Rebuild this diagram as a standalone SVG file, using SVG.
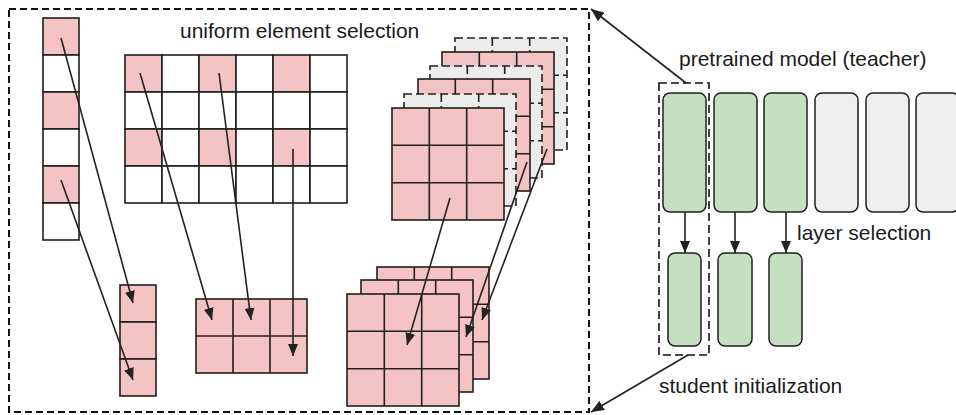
<svg xmlns="http://www.w3.org/2000/svg" width="956" height="415" viewBox="0 0 956 415">
<defs>
<style>
.t{font-family:"Liberation Sans",Arial,sans-serif;font-size:21px;fill:#1a1a1a}
.pk{fill:#f4c4c4;stroke:#1f1f1f;stroke-width:1.6}
.wh{fill:#ffffff;stroke:#1f1f1f;stroke-width:1.6}
.ln{stroke:#1f1f1f;stroke-width:1.6;fill:none}
.dl{stroke:#1f1f1f;stroke-width:1.6;fill:none;stroke-dasharray:8 4}
.gr{fill:#ececec;stroke:#1f1f1f;stroke-width:1.6;stroke-dasharray:8 4}
.ar{stroke:#222;stroke-width:1.6;fill:none;marker-end:url(#ah)}
.box{fill:none;stroke:#111;stroke-width:2;stroke-dasharray:7 4}
.g{fill:#c5e0c1;stroke:#1f1f1f;stroke-width:1.5}
.e{fill:#efefef;stroke:#1f1f1f;stroke-width:1.5}
</style>
<marker id="ah" viewBox="0 0 12 10" refX="12" refY="5" markerWidth="12" markerHeight="10" markerUnits="userSpaceOnUse" orient="auto">
<path d="M0,0 L12,5 L0,10 z" fill="#222"/>
</marker>
<marker id="ah2" viewBox="0 0 12 10" refX="12" refY="5" markerWidth="13" markerHeight="11" orient="auto" markerUnits="userSpaceOnUse">
<path d="M0,0 L12,5 L0,10 z" fill="#222"/>
</marker>
<g id="pl">
<rect class="pk" x="0" y="0" width="112" height="112"/>
<path class="ln" d="M37.3,0V112M74.7,0V112M0,37.3H112M0,74.7H112"/>
</g>
<g id="gl">
<rect class="gr" x="0" y="0" width="112" height="112"/>
<path class="dl" d="M37.3,0V112M74.7,0V112M0,37.3H112M0,74.7H112"/>
</g>
</defs>
<rect width="956" height="415" fill="#fff"/>

<g id="outer-box">
<rect class="box" x="9" y="9" width="580" height="403"/>
</g>

<g id="title-uniform"><text class="t" x="180" y="38">uniform element selection</text></g>

<g id="vector-source">
<rect class="pk" x="43" y="18" width="36" height="37"/>
<rect class="wh" x="43" y="55" width="36" height="37"/>
<rect class="pk" x="43" y="92" width="36" height="37"/>
<rect class="wh" x="43" y="129" width="36" height="37"/>
<rect class="pk" x="43" y="166" width="36" height="37"/>
<rect class="wh" x="43" y="203" width="36" height="37"/>
</g>

<g id="matrix-source">
<rect class="pk" x="125" y="55" width="37" height="37"/>
<rect class="wh" x="162" y="55" width="37" height="37"/>
<rect class="pk" x="199" y="55" width="37" height="37"/>
<rect class="wh" x="236" y="55" width="37" height="37"/>
<rect class="pk" x="273" y="55" width="37" height="37"/>
<rect class="wh" x="310" y="55" width="37" height="37"/>
<rect class="wh" x="125" y="92" width="37" height="37"/>
<rect class="wh" x="162" y="92" width="37" height="37"/>
<rect class="wh" x="199" y="92" width="37" height="37"/>
<rect class="wh" x="236" y="92" width="37" height="37"/>
<rect class="wh" x="273" y="92" width="37" height="37"/>
<rect class="wh" x="310" y="92" width="37" height="37"/>
<rect class="pk" x="125" y="129" width="37" height="37"/>
<rect class="wh" x="162" y="129" width="37" height="37"/>
<rect class="pk" x="199" y="129" width="37" height="37"/>
<rect class="wh" x="236" y="129" width="37" height="37"/>
<rect class="pk" x="273" y="129" width="37" height="37"/>
<rect class="wh" x="310" y="129" width="37" height="37"/>
<rect class="wh" x="125" y="166" width="37" height="37"/>
<rect class="wh" x="162" y="166" width="37" height="37"/>
<rect class="wh" x="199" y="166" width="37" height="37"/>
<rect class="wh" x="236" y="166" width="37" height="37"/>
<rect class="wh" x="273" y="166" width="37" height="37"/>
<rect class="wh" x="310" y="166" width="37" height="37"/>
</g>

<g id="tensor-source">
<use href="#gl" x="455" y="38"/>
<use href="#pl" x="442" y="52"/>
<use href="#gl" x="430" y="66"/>
<use href="#pl" x="418" y="79"/>
<use href="#gl" x="404" y="94"/>
<use href="#pl" x="392" y="108"/>
</g>

<g id="vector-target">
<rect class="pk" x="120" y="285" width="36" height="37"/>
<rect class="pk" x="120" y="322" width="36" height="37"/>
<rect class="pk" x="120" y="359" width="36" height="37"/>
</g>

<g id="matrix-target">
<rect class="pk" x="196" y="299" width="111" height="74"/>
<path class="ln" d="M233,299V373M270,299V373M196,336H307"/>
</g>

<g id="tensor-target">
<use href="#pl" x="377" y="267"/>
<use href="#pl" x="361" y="280"/>
<use href="#pl" x="347" y="294"/>
</g>

<g id="teacher">
<rect class="g" x="663" y="93" width="43" height="119" rx="7"/>
<rect class="g" x="714" y="93" width="43" height="119" rx="7"/>
<rect class="g" x="764" y="93" width="43" height="119" rx="7"/>
<rect class="e" x="815" y="93" width="43" height="119" rx="7"/>
<rect class="e" x="866" y="93" width="43" height="119" rx="7"/>
<rect class="e" x="916" y="93" width="43" height="119" rx="7"/>
</g>

<g id="student">
<rect class="g" x="668" y="253" width="33" height="93" rx="7"/>
<rect class="g" x="718" y="253" width="34" height="93" rx="7"/>
<rect class="g" x="769" y="253" width="33" height="93" rx="7"/>
</g>

<g id="selection-box">
<rect class="box" x="659" y="83" width="50" height="272" style="stroke-width:1.6;stroke-dasharray:8 4"/>
</g>

<g id="labels">
<text class="t" x="679" y="66">pretrained model (teacher)</text>
<text class="t" x="797" y="240">layer selection</text>
<text class="t" x="659" y="393">student initialization</text>
</g>

<g id="connectors">
<line class="ar" x1="61" y1="38" x2="133" y2="303"/>
<line class="ar" x1="61" y1="180" x2="133" y2="380"/>
<line class="ar" x1="140" y1="73" x2="212" y2="320"/>
<line class="ar" x1="219" y1="73" x2="251" y2="320"/>
<line class="ar" x1="293" y1="149" x2="293" y2="356"/>
<line class="ar" x1="450" y1="198" x2="407" y2="345"/>
<line class="ar" x1="527" y1="162" x2="466" y2="337"/>
<line class="ar" x1="547" y1="149" x2="482" y2="320"/>
<line class="ar" x1="685" y1="212" x2="685" y2="253"/>
<line class="ar" x1="735" y1="212" x2="735" y2="253"/>
<line class="ar" x1="786" y1="212" x2="786" y2="253"/>
<line class="ar" x1="686" y1="83" x2="591" y2="9" style="marker-end:url(#ah2)"/>
<line class="ar" x1="688" y1="355" x2="591" y2="412" style="marker-end:url(#ah2)"/>
</g>
</svg>
